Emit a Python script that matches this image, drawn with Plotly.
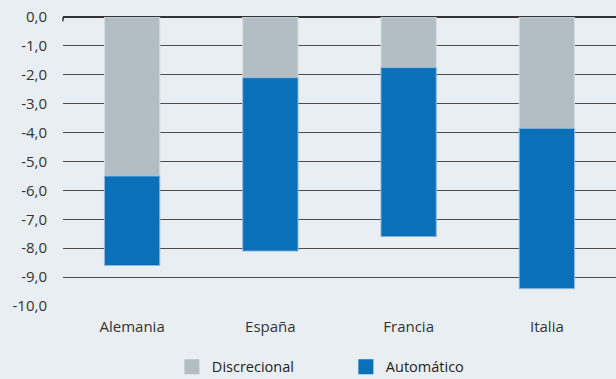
import plotly.graph_objects as go

categories = ["Alemania", "España", "Francia", "Italia"]
discrecional = [-5.5, -2.1, -1.75, -3.85]
automatico = [-3.1, -6.0, -5.85, -5.55]
tick_vals = [0, -1, -2, -3, -4, -5, -6, -7, -8, -9, -10]
tick_text = ["0,0", "-1,0", "-2,0", "-3,0", "-4,0", "-5,0", "-6,0", "-7,0", "-8,0", "-9,0", "-10,0"]
series_names = ["Discrecional", "Automático"]
series_colors = ["#b2bec3", "#0a70ba"]

BG = "#e9eef2"
GRID = "#4d4d4d"

fig = go.Figure()
fig.add_bar(x=categories, y=discrecional, name=series_names[0], showlegend=False,
            marker=dict(color=series_colors[0], line=dict(color="#d4dde1", width=1)), width=0.4)
fig.add_bar(x=categories, y=automatico, name=series_names[1], showlegend=False,
            marker=dict(color=series_colors[1], line=dict(color="#8fb8d9", width=1)), width=0.4)
# legend proxies with larger square symbols
for n, c in zip(series_names, series_colors):
    fig.add_scatter(x=[None], y=[None], mode="markers", name=n,
                    marker=dict(symbol="square", size=15, color=c))

fig.update_layout(
    barmode="relative",
    width=616, height=379,
    paper_bgcolor=BG, plot_bgcolor=BG,
    margin=dict(l=63, r=0, t=17, b=73),
    font=dict(family="Open Sans, Noto Sans, sans-serif", size=15, color="#333333"),
    showlegend=True,
    legend=dict(orientation="h", xref="container", yref="container",
                x=0.279, xanchor="left", y=0.032, yanchor="middle",
                entrywidth=129, entrywidthmode="pixels",
                font=dict(size=14.5, color="#222222"), bgcolor="rgba(0,0,0,0)"),
    xaxis=dict(showgrid=False, showline=False, ticks="", ticklabelstandoff=10,
               tickfont=dict(size=15, color="#333333")),
    yaxis=dict(range=[-10, 0], tickvals=tick_vals, ticktext=tick_text,
               showgrid=True, gridcolor=GRID, gridwidth=1,
               zeroline=True, zerolinecolor="#333333", zerolinewidth=1.5,
               showline=False, ticks="", ticklabelstandoff=15,
               tickfont=dict(size=15, color="#333333")),
)
fig.add_shape(type="line", xref="paper", yref="y", x0=0, x1=0, y0=0, y1=-0.15,
              line=dict(color="#333333", width=1.5))

fig.write_html("out.html")
